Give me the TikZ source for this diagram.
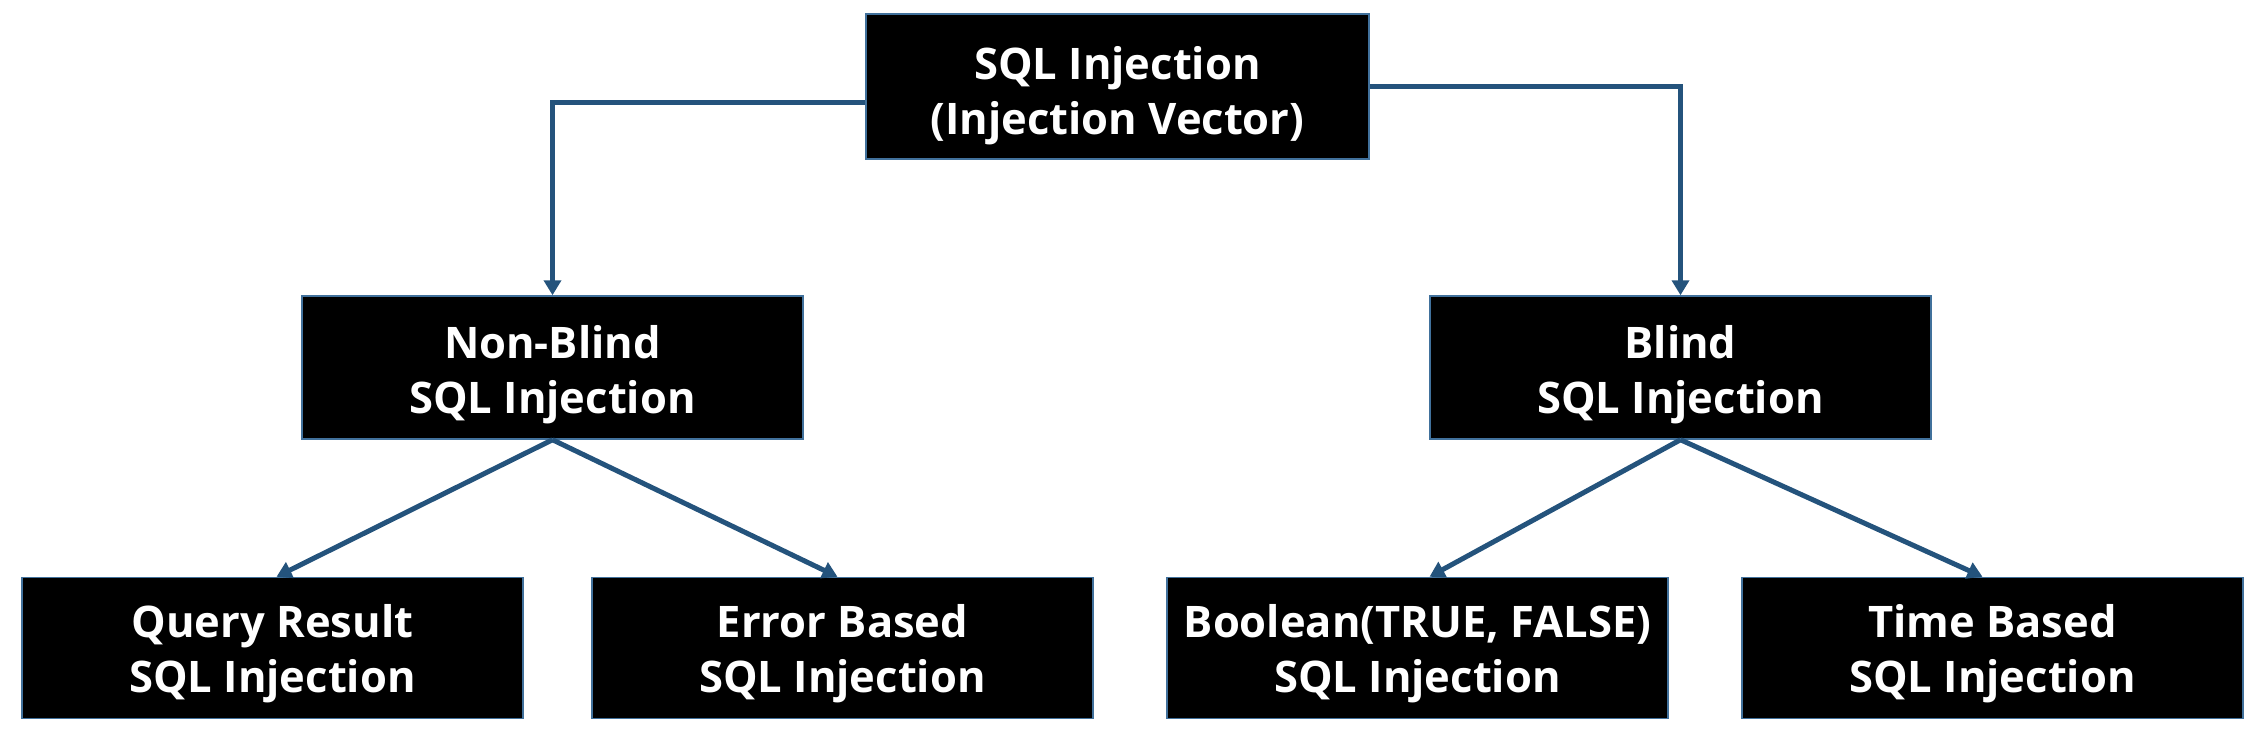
\documentclass[tikz,border=0pt]{standalone}
\usepackage{fontspec}
\setmainfont{Open Sans}
\usetikzlibrary{arrows.meta}
\definecolor{edgeblue}{HTML}{41719C}
\definecolor{arrblue}{HTML}{24537C}
\begin{document}
\begin{tikzpicture}[x=1pt,y=-1pt,
  box/.style={draw=edgeblue, line width=1.5pt, fill=black,
    minimum width=501pt, minimum height=141pt, inner sep=0pt},
  lbl/.style={text=white, font=\bfseries\fontsize{43.5}{55}\selectfont, align=center, inner sep=0pt},
  conn/.style={draw=arrblue, line width=5pt, -{Triangle[length=15pt,width=17pt]}}]
\useasboundingbox (0,0) rectangle (2264,740);
\node[box, minimum width=503pt, minimum height=145pt] (root) at (1117.5,86.5) {};
\node[box, minimum height=143pt] (nb) at (552.5,367.5) {};
\node[box, minimum height=143pt] (bl) at (1680.5,367.5) {};
\node[box] (qr) at (272.5,648) {};
\node[box] (eb) at (842.5,648) {};
\node[box] (bo) at (1417.5,648) {};
\node[box] (tb) at (1992.5,648) {};
\node[lbl] (roott) at ([yshift=-9pt]root.center) {SQL Injection\\(Injection Vector)};
\node[lbl] (nbt) at ([yshift=-7pt]nb.center) {Non-Blind\\SQL Injection};
\node[lbl] (blt) at ([yshift=-7pt]bl.center) {Blind\\SQL Injection};
\node[lbl] (qrt) at ([yshift=-6pt]qr.center) {Query Result\\SQL Injection};
\node[lbl] (ebt) at ([yshift=-6pt]eb.center) {Error Based\\SQL Injection};
\node[lbl] (bot) at ([yshift=-6pt]bo.center) {Boolean(TRUE, FALSE)\\SQL Injection};
\node[lbl] (tbt) at ([yshift=-6pt]tb.center) {Time Based\\SQL Injection};
\draw[conn] ([yshift=-16pt]root.west) -| (nb.north);
\draw[conn] (root.east) -| (bl.north);
\draw[conn] (nb.south) -- ([xshift=4pt]qr.north);
\draw[conn] (nb.south) -- ([xshift=-5pt]eb.north);
\draw[conn] (bl.south) -- ([xshift=12pt]bo.north);
\draw[conn] (bl.south) -- ([xshift=-10pt]tb.north);
\end{tikzpicture}
\end{document}
